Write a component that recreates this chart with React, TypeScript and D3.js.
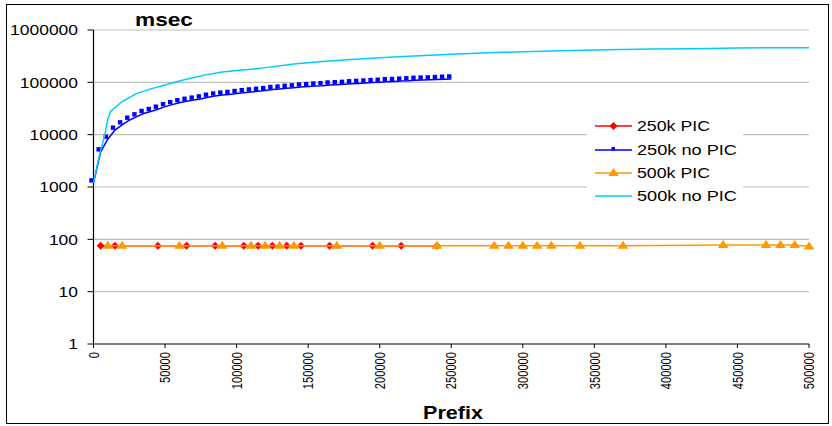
import React from 'react';
import * as d3 from 'd3';

const yTicks = [1, 10, 100, 1000, 10000, 100000, 1000000];
const xTicks = [0, 50000, 100000, 150000, 200000, 250000, 300000, 350000, 400000, 450000, 500000];
const seriesNames = ['250k PIC', '250k no PIC', '500k PIC', '500k no PIC'];
const seriesColors = ['#FF0000', '#0000FF', '#FF9900', '#00CCFF'];

const pic250X = [5000, 15000, 45000, 65000, 85000, 105000, 115000, 125000, 135000, 145000, 165000, 195000, 215000, 240000];
const pic250Y = [75, 75, 75, 75, 75, 75, 75, 75, 75, 75, 75, 75, 75, 75];

const noPic250X = [0, 5000, 10000, 15000, 20000, 25000, 30000, 35000, 40000, 45000, 50000, 55000, 60000, 65000, 70000, 75000, 80000, 85000, 90000, 95000, 100000, 105000, 110000, 115000, 120000, 125000, 130000, 135000, 140000, 145000, 150000, 155000, 160000, 165000, 170000, 175000, 180000, 185000, 190000, 195000, 200000, 205000, 210000, 215000, 220000, 225000, 230000, 235000, 240000, 245000, 250000];
const noPic250Y = [1200, 4700, 8200, 12200, 15400, 18900, 21900, 25400, 27700, 30700, 34300, 37500, 40800, 43500, 45800, 48200, 52000, 54800, 57000, 58800, 61200, 63500, 65600, 67500, 69500, 73000, 74500, 77000, 78500, 81500, 83000, 85000, 86500, 89000, 90000, 91500, 94000, 95500, 97000, 99000, 100500, 103000, 104000, 105500, 107000, 109500, 110500, 111500, 113000, 115000, 116000];

const pic500X = [10000, 20000, 60000, 90000, 110000, 120000, 130000, 140000, 170000, 200000, 240000, 280000, 290000, 300000, 310000, 320000, 340000, 370000, 440000, 470000, 480000, 490000, 500000];
const pic500Y = [75, 75, 75, 75, 75, 75, 75, 75, 75, 75, 75, 75, 75, 75, 75, 75, 75, 75, 78, 78, 78, 78, 73];

const noPic500X = [0, 2500, 5000, 8000, 10000, 12000, 20000, 30000, 40000, 50000, 60000, 70000, 80000, 90000, 100000, 110000, 120000, 140000, 160000, 180000, 200000, 220000, 250000, 280000, 300000, 320000, 350000, 390000, 420000, 450000, 500000];
const noPic500Y = [1200, 2500, 5000, 10000, 20000, 28000, 43000, 61000, 75000, 89000, 106000, 124000, 142000, 157000, 168000, 178000, 191000, 225000, 250000, 274000, 295000, 315000, 345000, 370000, 385000, 397000, 415000, 434000, 440000, 455000, 460000];

const W = 832, H = 426;
const x = d3.scaleLinear().domain([0, 500000]).range([93.5, 809]);
const y = d3.scaleLog().domain([1, 1000000]).range([344, 30]);

const FONT = 'Arial, "Liberation Sans", sans-serif';

function diamond(cx: number, cy: number, r: number) {
  return `M${cx},${cy - r}L${cx + r},${cy}L${cx},${cy + r}L${cx - r},${cy}Z`;
}
function triangle(cx: number, cy: number, r: number) {
  return `M${cx},${cy - r}L${cx + r * 1.15},${cy + r * 0.75}L${cx - r * 1.15},${cy + r * 0.75}Z`;
}

export default function App() {
  const line = d3.line<[number, number]>().x(d => x(d[0])).y(d => y(d[1]));
  const zip = (a: number[], b: number[]) => a.map((v, i) => [v, b[i]] as [number, number]);
  const s1 = zip(pic250X, pic250Y);
  const s2 = zip(noPic250X, noPic250Y);
  const s3 = zip(pic500X, pic500Y);
  const s4 = zip(noPic500X, noPic500Y);
  const legendW = [73, 100, 73, 100];
  const legendRows = [131, 155, 178, 201];

  return (
    <svg width={W} height={H} style={{ position: 'absolute', left: 0, top: 0, background: '#fff' }}>
      <rect x={6.5} y={4.5} width={822} height={419} fill="#fff" stroke="#000" strokeWidth={1} />
      {/* gridlines */}
      {yTicks.slice(1).map(t => (
        <line key={t} x1={93.5} x2={809} y1={y(t)} y2={y(t)} stroke="#C0C0C0" strokeWidth={1.2} />
      ))}
      {/* y axis */}
      <line x1={93.5} x2={93.5} y1={30} y2={344} stroke="#000" strokeWidth={1.2} />
      {yTicks.map(t => (
        <g key={t}>
          <line x1={87.5} x2={93.5} y1={y(t)} y2={y(t)} stroke="#000" strokeWidth={1} />
          <text x={78} y={y(t)} dy="0.36em" textAnchor="end" fontFamily={FONT} fontSize={15}
            textLength={String(t).length * 9.7} lengthAdjust="spacingAndGlyphs">{String(t)}</text>
        </g>
      ))}
      {/* x axis */}
      <line x1={93.5} x2={809} y1={344} y2={344} stroke="#000" strokeWidth={1.2} />
      {xTicks.map(t => (
        <g key={t}>
          <line x1={x(t)} x2={x(t)} y1={344} y2={348} stroke="#000" strokeWidth={1} />
          <text transform={`translate(${x(t)},352) scale(1.15,1) rotate(-90)`} dy="0.36em" textAnchor="end"
            fontFamily={FONT} fontSize={12.5} textLength={String(t).length * 6.2} lengthAdjust="spacingAndGlyphs">{String(t)}</text>
        </g>
      ))}
      {/* title & axis title */}
      <text x={135} y={26} fontFamily={FONT} fontWeight="bold" fontSize={19} textLength={58} lengthAdjust="spacingAndGlyphs">msec</text>
      <text x={423} y={419} fontFamily={FONT} fontWeight="bold" fontSize={18} textLength={60} lengthAdjust="spacingAndGlyphs">Prefix</text>

      {/* series 1: 250k PIC */}
      <path d={line(s1) || ''} fill="none" stroke={seriesColors[0]} strokeWidth={1.5} />
      {s1.map((d, i) => <path key={i} d={diamond(x(d[0]), y(d[1]), 4)} fill={seriesColors[0]} />)}
      {/* series 2: 250k no PIC */}
      <path d={line(s2) || ''} fill="none" stroke={seriesColors[1]} strokeWidth={1.5} />
      {s2.map((d, i) => <rect key={i} x={x(d[0]) - 2 - 2.2} y={y(d[1]) - 2.5 - 2.2} width={4.4} height={4.4} fill={seriesColors[1]} />)}
      {/* series 3: 500k PIC */}
      <path d={line(s3) || ''} fill="none" stroke={seriesColors[2]} strokeWidth={1.5} />
      {s3.map((d, i) => <path key={i} d={triangle(x(d[0]), y(d[1]) - 0.5, 4.6)} fill={seriesColors[2]} />)}
      {/* series 4: 500k no PIC */}
      <path d={line(s4) || ''} fill="none" stroke={seriesColors[3]} strokeWidth={1.5} />

      {/* legend */}
      <rect x={587} y={113} width={156} height={97} fill="#fff" />
      {seriesNames.map((n, i) => (
        <g key={n}>
          <line x1={595} x2={632} y1={legendRows[i] - 5} y2={legendRows[i] - 5} stroke={seriesColors[i]} strokeWidth={1.5} />
          {i === 0 && <path d={diamond(613.5, legendRows[i] - 5, 4)} fill={seriesColors[0]} />}
          {i === 1 && <rect x={611.5} y={legendRows[i] - 8} width={3.5} height={3.5} fill={seriesColors[1]} />}
          {i === 2 && <path d={triangle(613.5, legendRows[i] - 5.5, 4.6)} fill={seriesColors[2]} />}
          <text x={637} y={legendRows[i]} fontFamily={FONT} fontSize={15} textLength={legendW[i]} lengthAdjust="spacingAndGlyphs">{n}</text>
        </g>
      ))}
    </svg>
  );
}
